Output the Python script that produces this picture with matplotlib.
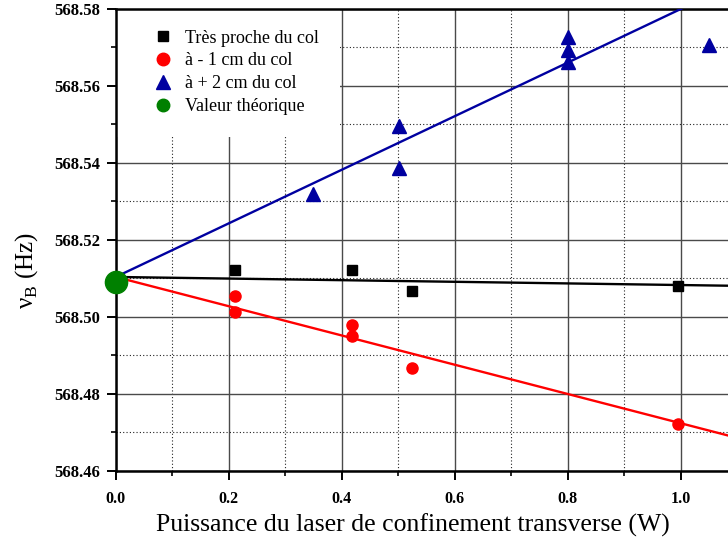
import matplotlib
matplotlib.use("Agg")
import matplotlib.pyplot as plt
from matplotlib.ticker import MultipleLocator, FormatStrFormatter
from matplotlib.patches import Rectangle
import numpy as np

plt.rcParams['font.family'] = ['Liberation Serif', 'DejaVu Serif']

# Measurements: laser power (W) and frequency nu_B
power_proche = [0.211, 0.419, 0.524, 0.995]
nu_proche = [568.5122, 568.5122, 568.5068, 568.5081]

power_m1 = [0.211, 0.211, 0.419, 0.419, 0.524, 0.995]
nu_m1 = [568.5055, 568.5013, 568.4979, 568.4951, 568.4868, 568.4722]

power_p2 = [0.350, 0.501, 0.501, 0.800, 0.800, 0.800, 1.050]
nu_p2 = [568.5319, 568.5387, 568.5496, 568.5727, 568.5693, 568.5662, 568.5706]

power_theo = [0.0]
nu_theo = [568.5091]

# Linear fits (intercept, slope)
fit_proche = (568.5104, -0.0021)
fit_m1 = (568.5104, -0.0380)
fit_p2 = (568.5104, 0.0696)

labels = ["Très proche du col", "à - 1 cm du col", "à + 2 cm du col", "Valeur théorique"]

fig = plt.figure(figsize=(7.28, 5.45), dpi=100)
xmin, xmax = 0.0, 1.15
ymin, ymax = 568.46, 568.58
ax = fig.add_axes([0.159, 0.1358, 0.8925, 0.8477])
ax.set_xlim(xmin, xmax)
ax.set_ylim(ymin, ymax)

ax.xaxis.set_major_locator(MultipleLocator(0.2))
ax.xaxis.set_minor_locator(MultipleLocator(0.1))
ax.yaxis.set_major_locator(MultipleLocator(0.02))
ax.yaxis.set_minor_locator(MultipleLocator(0.01))
ax.xaxis.set_major_formatter(FormatStrFormatter('%.1f'))
ax.yaxis.set_major_formatter(FormatStrFormatter('%.2f'))

ax.set_axisbelow(True)
ax.grid(which='major', color='#4a4a4a', linewidth=1.0, linestyle='-')
ax.grid(which='minor', color='#222222', linewidth=0.8, linestyle=(0, (1, 2)))

# white panel behind the legend
ax.add_patch(Rectangle((0.0, 0.723), 0.345, 0.277, transform=ax.transAxes,
                       facecolor='white', edgecolor='none', zorder=1))

xs = np.array([xmin, xmax])
ax.plot(xs, fit_p2[0] + fit_p2[1] * xs, color='#0000A0', lw=1.7, zorder=3)
ax.plot(xs, fit_proche[0] + fit_proche[1] * xs, color='black', lw=1.7, zorder=3)
ax.plot(xs, fit_m1[0] + fit_m1[1] * xs, color='#FF0000', lw=1.7, zorder=3)

h1, = ax.plot(power_proche, nu_proche, 's', color='black', ms=7.2, zorder=4, label=labels[0])
h2, = ax.plot(power_m1, nu_m1, 'o', color='#FF0000', ms=8, zorder=4, label=labels[1])
h3, = ax.plot(power_p2, nu_p2, '^', color='#0000A0', ms=9.5, zorder=4, label=labels[2])
h4, = ax.plot(power_theo, nu_theo, 'o', color='#008000', ms=16, zorder=5, clip_on=False,
              label=labels[3])

leg = ax.legend(handles=[h1, h2, h3, h4], loc='upper left', bbox_to_anchor=(0.047, 0.971),
                frameon=False, fontsize=13, handlelength=1.0, handletextpad=0.75,
                labelspacing=0.32, markerscale=1.0, borderaxespad=0)
leg.legend_handles[1].set_markersize(9)
leg.legend_handles[2].set_markersize(10.5)
leg.legend_handles[3].set_markersize(9)
leg.set_zorder(6)

for s in ['left', 'bottom', 'top']:
    ax.spines[s].set_linewidth(1.8)
ax.spines['right'].set_visible(False)

ax.tick_params(which='major', direction='out', length=6.5, width=1.4)
ax.tick_params(which='minor', direction='out', length=3.6, width=1.2)
ax.tick_params(axis='x', which='major', pad=8)
ax.tick_params(axis='y', which='major', pad=5)
for t in ax.get_xticklabels():
    t.set_fontweight('bold')
    t.set_fontsize(11.5)
for t in ax.get_yticklabels():
    t.set_fontweight('bold')
    t.set_fontsize(12)

fig.text(413 / 728, 1 - 525 / 545, "Puissance du laser de confinement transverse (W)",
         fontsize=18.5, ha='center', va='center')
fig.text(27 / 728, 1 - 271 / 545, "ν$_\\mathregular{B}$ (Hz)", fontsize=18,
         rotation=90, ha='center', va='center')

fig.savefig("out.png", dpi=100)
